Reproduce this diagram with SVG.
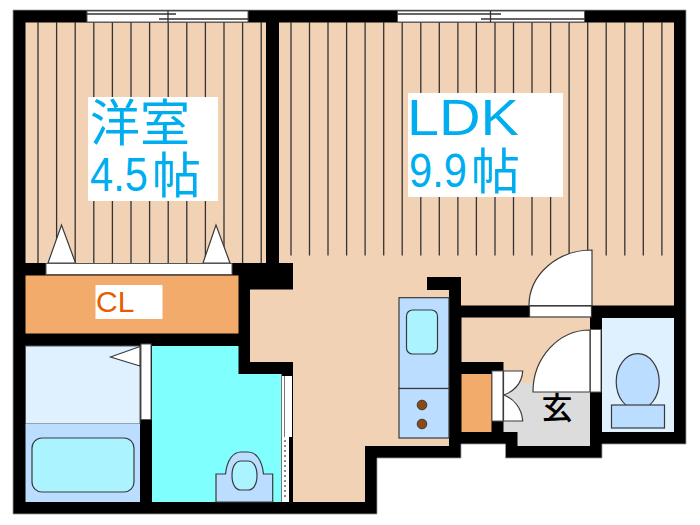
<svg xmlns="http://www.w3.org/2000/svg" width="700" height="525" viewBox="0 0 700 525">
<style>
.wall{fill:#000}
.floor{fill:#F2D2B5}
.ln{stroke:#333;stroke-width:1.3;fill:none}
.w{fill:#fff;stroke:#555;stroke-width:1}
.d{fill:#fff;stroke:#3a3a3a;stroke-width:1.2}
.b{fill:#BBDDFF;stroke:#3a3a3a;stroke-width:1.2}
.a{fill:#AAF3FF;stroke:#3a3a3a;stroke-width:1.2}
.t{font-family:"Liberation Sans","Noto Sans CJK JP",sans-serif;fill:#00AEEF}
.j{font-family:"Noto Sans CJK JP",sans-serif;fill:#00AEEF}
</style>
<rect width="700" height="525" fill="#fff"/>
<g id="structure">
<path class="wall" stroke="#999" stroke-width="0.8" d="M13 10H686V444H602V458H505.500V444H461V458H377V514H13Z"/>
</g>
<g id="room-western">
<rect class="floor" x="25.500" y="22.500" width="240.500" height="240.500"/>
<path class="ln" d="M38 22V263M56.600 22V263M75.200 22V263M93.800 22V263M112.400 22V263M131 22V263M149.600 22V263M168.200 22V263M186.800 22V263M205.400 22V263M224 22V263M242.600 22V263M261.200 22V263"/>
<rect x="88" y="97" width="130" height="104" fill="#fff"/>
<text class="j" x="90" y="141" font-size="50">洋室</text>
<text class="t" x="90" y="191" font-size="49" textLength="58" lengthAdjust="spacingAndGlyphs">4.5</text>
<text class="j" x="152" y="193" font-size="49">帖</text>
<path class="d" d="M48 263L61.500 225L75.500 263ZM203 263L216 225L230 263Z"/>
<rect class="w" x="46" y="263.500" width="186" height="11"/>
<rect class="w" x="87" y="11" width="161" height="11"/>
<path class="ln" d="M87 14H176M159 19H248M168 11V22"/>
</g>
<g id="room-ldk">
<path class="floor" d="M279 22.500H674V305.500H461V277H427V290H449V297H399V438H449V446H365V502H293V263H279Z"/>
<path class="floor" d="M399 290H449V446H399Z"/>
<path class="ln" d="M291 22V255.500M309.500 22V255.500M328 22V255.500M346.600 22V255.500M365.100 22V255.500M383.700 22V255.500M402.200 22V255.500M420.800 22V255.500M439.300 22V255.500M457.900 22V255.500M476.400 22V255.500M495 22V255.500M513.500 22V255.500M532 22V255.500M550.600 22V255.500M569.100 22V255.500M587.700 22V255.500M606.200 22V255.500M624.800 22V255.500M643.300 22V255.500M661.900 22V255.500"/>
<rect x="408" y="93" width="155" height="104" fill="#fff"/>
<text class="t" x="407" y="135" font-size="50" textLength="112" lengthAdjust="spacingAndGlyphs">LDK</text>
<text class="t" x="409" y="187" font-size="49" textLength="58" lengthAdjust="spacingAndGlyphs">9.9</text>
<text class="j" x="471" y="189" font-size="49">帖</text>
<rect class="w" x="397.500" y="11" width="187" height="11"/>
<path class="ln" d="M397.500 14H501M481 19H584.500M490.500 11V22"/>
<path class="floor" d="M250 289.500H293V362H250Z"/>
<path class="wall" d="M427 277H461V305.500H449V290H427Z"/>
</g>
<g id="door-ldk">
<path class="d" d="M592 305.500V250A63 55.500 0 0 0 529 305.500Z"/>
<rect class="d" x="529.500" y="306" width="62" height="11"/>
</g>
<g id="closet">
<rect x="25.500" y="275.500" width="213" height="58" fill="#F3AB6B"/>
<rect x="95.500" y="285" width="67" height="34" fill="#fff"/>
<text x="96" y="312" font-size="30" fill="#E65C00" font-family="Liberation Sans,sans-serif">CL</text>
</g>
<g id="bath">
<rect x="25.500" y="346" width="114.500" height="78" fill="#DFF0FF" stroke="#555" stroke-width="1"/>
<rect x="25.500" y="424" width="114.500" height="78" fill="#BBDDFF"/>
<rect class="a" x="32" y="438" width="102" height="54" rx="10"/>
<path class="d" d="M110.500 357L140 346.500V366Z"/>
<rect class="w" x="141" y="344" width="10" height="75.500"/>
</g>
<g id="washroom">
<path d="M152 346H238.500V374H281V502H152Z" fill="#80FFFF"/>
<path class="b" d="M216 502V474H225.500C227 460 233 452 241 452H248C256 452 262 460 263.500 474H272.700V502Z"/>
<path class="a" d="M232 475.500C232 466 236 461 241 461H248C253 461 257 466 257 475.500C257 485 253 490 248 490H241C236 490 232 485 232 475.500Z"/>
<rect x="281" y="376" width="11" height="126" fill="#fff"/>
<path stroke="#777" stroke-width="1" fill="none" d="M281.500 374V502M284.500 376V437"/>
<rect x="289" y="437" width="3.500" height="65" fill="#000"/>
<path stroke="#666" stroke-width="1.500" stroke-dasharray="2 3" fill="none" d="M285 440V500"/>
</g>
<g id="kitchen">
<rect class="b" x="399" y="297.700" width="50" height="90.800"/>
<rect class="b" x="399" y="388.500" width="50" height="49.500"/>
<rect class="a" x="406.500" y="310" width="31" height="44" rx="6"/>
<circle cx="422" cy="405" r="4.800" fill="#8B4A14" stroke="#3a3a3a"/>
<circle cx="422" cy="424" r="4.800" fill="#8B4A14" stroke="#3a3a3a"/>
</g>
<g id="entrance">
<path class="floor" d="M461.500 317.500H590V383H503.500V362H461.500Z"/>
<path d="M503.500 383H590V446H517.500V432H503.500Z" fill="#DCDCDC"/>
<rect x="461.500" y="374" width="30" height="58" fill="#F3AB6B"/>
<rect class="w" x="492" y="371" width="11" height="50"/>
<path class="d" d="M503.500 371H522.700C522 384 513 392 503.500 395ZM503.500 421H522.700C522 408 513 398 503.500 395Z"/>
<path class="d" d="M590 392V330A57 62 0 0 0 533 392Z"/>
<rect class="w" x="590.500" y="329.500" width="10.500" height="62.500"/>
<text x="557" y="419" font-size="31" text-anchor="middle" fill="#000" font-weight="500" font-family="Noto Sans CJK JP,sans-serif">玄</text>
</g>
<g id="toilet">
<rect x="602" y="318" width="72" height="114" fill="#DFF0FF"/>
<ellipse class="b" cx="637.700" cy="381.700" rx="21.500" ry="28"/>
<rect class="b" x="611.500" y="405" width="53" height="23"/>
</g>
</svg>
